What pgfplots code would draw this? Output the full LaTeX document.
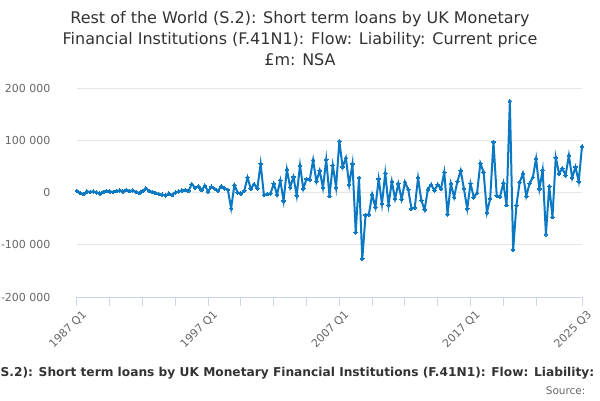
\documentclass[border=0pt]{standalone}
\usepackage{pgfplots}
\pgfplotsset{compat=1.18}
\usepackage{pgfplotstable}
\usepackage{fontspec}
\setmainfont{DejaVu Sans}
\definecolor{linecol}{RGB}{10,120,195}
\definecolor{titlecol}{RGB}{51,51,51}
\definecolor{labcol}{RGB}{102,102,102}
\definecolor{gridcol}{RGB}{230,230,230}
\definecolor{axiscol}{RGB}{204,214,235}
\pgfplotstableread{
i v
0 3000
1 -1000
2 -3000
3 2000
4 1000
5 2000
6 0
7 -2000
8 1000
9 3000
10 2000
11 1000
12 3000
13 4000
14 2000
15 5000
16 3000
17 4000
18 1000
19 -1000
20 3000
21 8000
22 3000
23 1000
24 -1000
25 -3000
26 -4000
27 -6000
28 -2000
29 -5000
30 0
31 2000
32 4000
33 5000
34 3000
35 16000
36 9000
37 12000
38 5000
39 13000
40 2000
41 11000
42 7000
43 3000
44 12000
45 8000
46 5000
47 -30000
48 14000
49 0
50 -2000
51 3000
52 29000
53 7000
54 16000
55 8000
56 55000
57 -5000
58 -3000
59 -2000
60 17000
61 -4000
62 23000
63 -16000
64 44000
65 10000
66 30000
67 -6000
68 52000
69 7000
70 26000
71 25000
72 62000
73 21000
74 42000
75 9000
76 63000
77 -7000
78 52000
79 10000
80 98000
81 49000
82 66000
83 15000
84 55000
85 -76000
86 28000
87 -127000
88 -43000
89 -42000
90 -4000
91 -28000
92 26000
93 -22000
94 37000
95 -24000
96 21000
97 -12000
98 17000
99 -13000
100 20000
101 6000
102 -31000
103 -29000
104 28000
105 -15000
106 -33000
107 6000
108 15000
109 4000
110 15000
111 7000
112 39000
113 -42000
114 17000
115 -9000
116 21000
117 42000
118 7000
119 -31000
120 17000
121 -9000
122 -1000
123 56000
124 39000
125 -38000
126 -12000
127 97000
128 -6000
129 -8000
130 18000
131 -24000
132 175000
133 -110000
134 -25000
135 20000
136 36000
137 -7000
138 17000
139 29000
140 65000
141 7000
142 43000
143 -80000
144 12000
145 -47000
146 67000
147 36000
148 46000
149 33000
150 71000
151 28000
152 49000
153 21000
154 88000
}\datatable
\begin{document}
\begin{tikzpicture}[x=1pt,y=1pt]
\path[use as bounding box] (0,0) rectangle (600,400);
\node[font=\fontsize{16}{21}\selectfont, text=titlecol, align=center] at (300,361)
  {Rest of the World (S.2): Short term loans by UK Monetary\\Financial Institutions (F.41N1): Flow: Liability: Current price\\£m: NSA};
\begin{axis}[
  at={(77pt,103pt)}, anchor=south west,
  scale only axis, width=505pt, height=209pt,
  xmin=0, xmax=154, ymin=-200000, ymax=200000,
  axis x line*=bottom, axis y line*=left,
  x axis line style={draw=axiscol, line width=1pt, -},
  y axis line style={draw=none},
  ytick={-200000,-100000,0,100000,200000},
  yticklabels={-200 000,-100 000,0,100 000,200 000},
  ymajorgrids, grid style={draw=gridcol, line width=1pt},
  ytick style={draw=none},
  xtick={0,10,20,30,40,50,60,70,80,90,100,110,120,130,140,154},
  xticklabels={1987 Q1,,,,1997 Q1,,,,2007 Q1,,,,2017 Q1,,,2025 Q3},
  xtick style={draw=axiscol, line width=1pt},
  tick align=outside, major tick length=9pt,
  scaled ticks=false,
  tick label style={font=\fontsize{11}{13}\selectfont, text=labcol},
  yticklabel style={anchor=east, xshift=-14pt},
  xticklabel style={rotate=45, anchor=north east, xshift=4pt, yshift=-2pt},
  clip=false,
]
\addplot[color=linecol, line width=2pt, mark=*, mark size=1.8pt, mark options={fill=linecol, draw=linecol, line width=0pt}] table[x=i, y=v] {\datatable};
\end{axis}
\node[overlay, anchor=base west, inner sep=0pt, font=\bfseries\fontsize{12.2}{14}\selectfont, text=titlecol] at (0.5,24)
  {\llap{Rest of the World (}S.2): Short term loans by UK Monetary Financial Institutions (F.41N1): Flow: Liability: Current price £m: NSA};
\node[font=\fontsize{10.5}{12}\selectfont, text=labcol, anchor=east] at (589,9) {Source:};
\end{tikzpicture}
\end{document}
